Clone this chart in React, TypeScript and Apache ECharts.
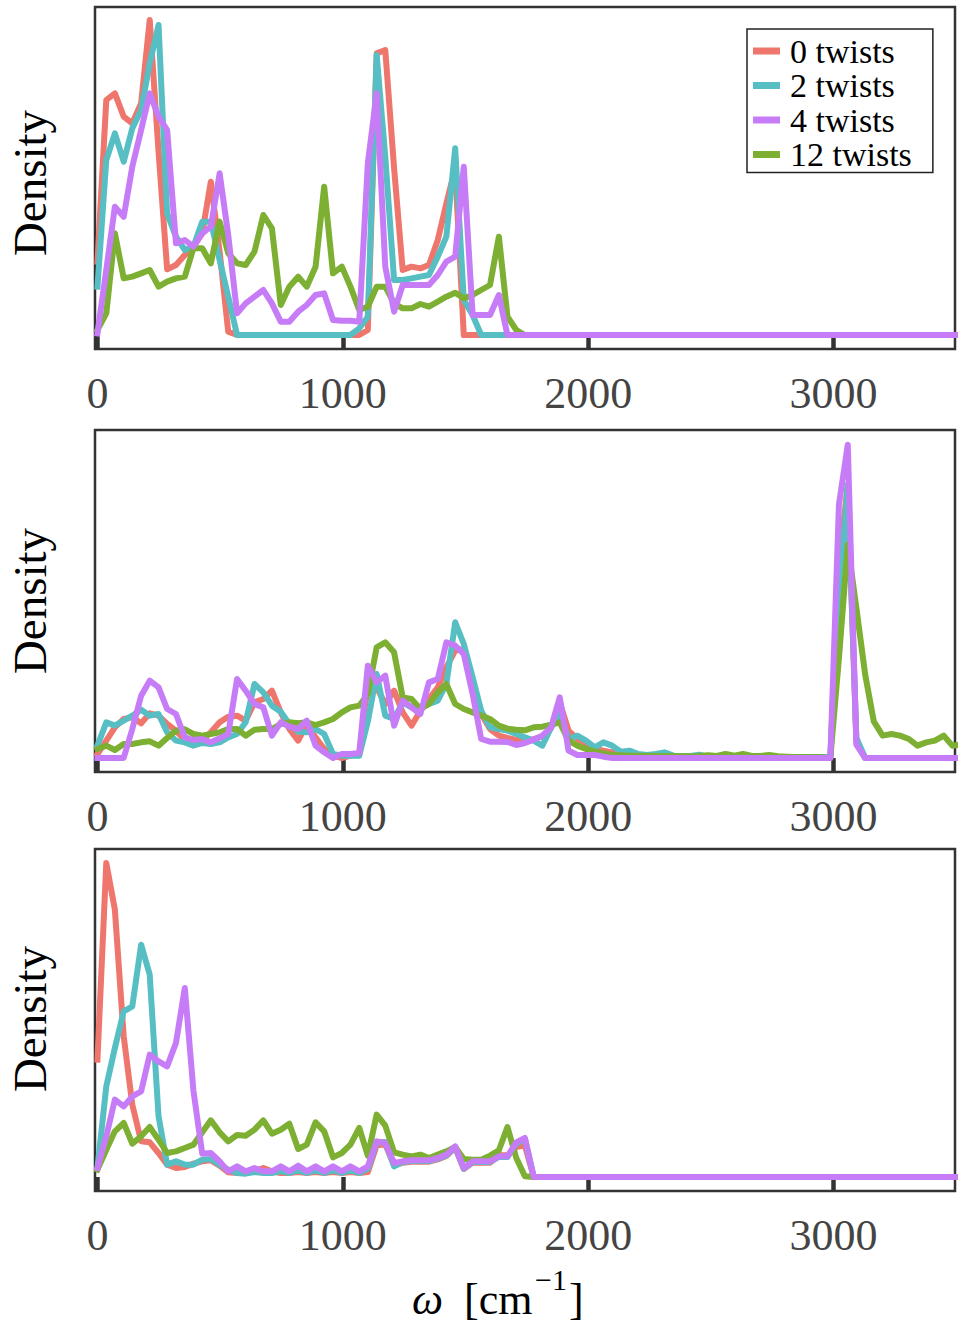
import React, { useEffect, useRef } from "react";
import * as echarts from "echarts";

// Frequency grid (cm^-1), shared by all series
const FREQ = [
  0, 36, 71, 107, 142, 178, 213, 249, 284, 320,
  356, 391, 427, 462, 498, 533, 569, 604, 640, 676,
  711, 747, 782, 818, 853, 889, 924, 960, 996, 1031,
  1067, 1102, 1138, 1173, 1209, 1244, 1280, 1316, 1351, 1387,
  1422, 1458, 1493, 1529, 1564, 1600, 1636, 1671, 1707, 1742,
  1778, 1813, 1849, 1884, 1920, 1956, 1991, 2027, 2062, 2098,
  2133, 2169, 2204, 2240, 2276, 2311, 2347, 2382, 2418, 2453,
  2489, 2524, 2560, 2596, 2631, 2667, 2702, 2738, 2773, 2809,
  2844, 2880, 2916, 2951, 2987, 3022, 3058, 3093, 3129, 3164,
  3200, 3236, 3271, 3307, 3342, 3378, 3413, 3449, 3484, 3520,
];

const SERIES_NAMES = ["0 twists", "2 twists", "4 twists", "12 twists"];
const COLORS = ["#EE766C", "#57BFC4", "#C77CF7", "#7CAF32"];
const X_TICKS = [0, 1000, 2000, 3000];

// ---- Panel 1 ----
const P1_T0 = [
  22, 70.5, 72.5, 65.5, 63.5, 69.5, 94.5, 55, 19.7, 21,
  24, 26.5, 30.5, 46, 25, 1, 0, 0, 0, 0,
  0, 0, 0, 0, 0, 0, 0, 0, 0, 0,
  0, 1.5, 84.5, 85.5, 50, 19.5, 20.5, 20, 21, 28.5,
  39.5, 50, 0, 0, 0, 0, 0, 0, 0, 0,
  0, 0, 0, 0, 0, 0, 0, 0, 0, 0,
  0, 0, 0, 0, 0, 0, 0, 0, 0, 0,
  0, 0, 0, 0, 0, 0, 0, 0, 0, 0,
  0, 0, 0, 0, 0, 0, 0, 0, 0, 0,
  0, 0, 0, 0, 0, 0, 0, 0, 0, 0,
];
const P1_T2 = [
  14.5, 52.5, 60.5, 52, 62, 67.5, 81.5, 93, 36.5, 29.5,
  25.5, 26.5, 34, 34, 22.5, 11.5, 0, 0, 0, 0,
  0, 0, 0, 0, 0, 0, 0, 0, 0, 0,
  2, 5.5, 84, 53.5, 16.5, 16.5, 17, 17.5, 18, 23.5,
  29.5, 56, 10.5, 6, 0, 0, 0, 0, 0, 0,
  0, 0, 0, 0, 0, 0, 0, 0, 0, 0,
  0, 0, 0, 0, 0, 0, 0, 0, 0, 0,
  0, 0, 0, 0, 0, 0, 0, 0, 0, 0,
  0, 0, 0, 0, 0, 0, 0, 0, 0, 0,
  0, 0, 0, 0, 0, 0, 0, 0, 0, 0,
];
const P1_T4 = [
  0.5, 19.5, 38.5, 35.5, 50.5, 61.5, 72.5, 65.5, 61.5, 27.5,
  28.5, 26.5, 30.5, 32.5, 48.5, 30, 6.5, 9.5, 11.5, 13.5,
  9.5, 4, 4, 7, 9, 12, 12.5, 4.5, 4.3, 4.3,
  4, 51.5, 72.5, 20.5, 7, 15, 15, 15, 15, 18,
  22, 23.5, 50.5, 6, 6, 6, 12, 0, 0, 0,
  0, 0, 0, 0, 0, 0, 0, 0, 0, 0,
  0, 0, 0, 0, 0, 0, 0, 0, 0, 0,
  0, 0, 0, 0, 0, 0, 0, 0, 0, 0,
  0, 0, 0, 0, 0, 0, 0, 0, 0, 0,
  0, 0, 0, 0, 0, 0, 0, 0, 0, 0,
];
const P1_T12 = [
  1.5, 6.5, 30.5, 17, 17.5, 18.5, 19.5, 14.5, 16, 17,
  17.5, 26, 26, 21.5, 34, 24.5, 21.5, 21, 25, 36,
  32, 9, 14.5, 17.5, 14.5, 20.5, 44.5, 18.5, 20.5, 14.5,
  7.5, 8.5, 14.5, 14.5, 9.5, 8, 8, 9.3, 8.5, 10,
  11.5, 12.7, 11, 12, 13.5, 15, 29.5, 5.5, 1.5, 0,
  0, 0, 0, 0, 0, 0, 0, 0, 0, 0,
  0, 0, 0, 0, 0, 0, 0, 0, 0, 0,
  0, 0, 0, 0, 0, 0, 0, 0, 0, 0,
  0, 0, 0, 0, 0, 0, 0, 0, 0, 0,
  0, 0, 0, 0, 0, 0, 0, 0, 0, 0,
];

// ---- Panel 2 ----
const P2_T0 = [
  1.2, 5.2, 9.2, 11.7, 12.2, 10.4, 13.4, 12.7, 10.2, 8.2,
  5.4, 4.7, 5.2, 7.7, 10.7, 12.4, 12.7, 11.2, 16.7, 17.7,
  20.2, 13.7, 8.7, 5.2, 10.2, 6.2, 2.7, 0.7, 0, 0.7,
  1.2, 22.2, 21.2, 16.2, 20.2, 13.7, 9.7, 14.2, 17.7, 21.2,
  27.2, 32.2, 32.7, 23.2, 13.2, 8.7, 6.7, 6, 5.4, 4.7,
  5.7, 6.5, 9, 16.7, 8.2, 5.7, 4.2, 2.7, 2.2, 1.7,
  1.2, 0.9, 0.8, 0.8, 0.6, 0.6, 0.5, 0.4, 0.4, 0.3,
  0.3, 0.3, 0.4, 0.3, 0.3, 0.6, 0.4, 0.5, 0.3, 0.3,
  0.2, 0.2, 0.2, 0.2, 0.2, 58, 82, 5, 0, 0,
  0, 0, 0, 0, 0, 0, 0, 0, 0, 0,
];
const P2_T2 = [
  3.7, 10.7, 9.7, 11.2, 12.7, 14.5, 12.7, 13.2, 7.7, 5.2,
  4.7, 3.7, 4.5, 4.2, 4.7, 6.2, 7.2, 10.7, 22.2, 19.7,
  15.7, 13.9, 10.2, 7.9, 7.7, 8.7, 7.2, 1.2, 0.7, 0.7,
  0.7, 11, 25.2, 12.7, 11.7, 16.7, 15.2, 15.2, 16.2, 17.2,
  22.2, 40.7, 34.2, 24.2, 14.2, 9.2, 8.7, 8.2, 7.2, 6.2,
  5.2, 3.7, 9.2, 13.2, 5.7, 6.7, 5.2, 3.2, 4.7, 3.7,
  1.9, 2.2, 1.2, 0.9, 1.2, 1.7, 0.7, 0.6, 0.6, 1,
  0.3, 0.3, 0.3, 0.3, 0.3, 0.3, 0.3, 0.3, 0.3, 0.3,
  0.3, 0.3, 0.3, 0.3, 0.3, 46, 82, 6, 0, 0,
  0, 0, 0, 0, 0, 0, 0, 0, 0, 0,
];
const P2_T4 = [
  0, 0, 0, 0, 8.7, 18.7, 23.2, 21.2, 14.7, 13.2,
  6.2, 5.4, 5.7, 4.7, 5.9, 7.2, 23.7, 20.2, 16.2, 15.2,
  6.7, 10.7, 9.4, 8.7, 11.2, 3.7, 1.7, 0, 1.2, 1.2,
  1.5, 27.7, 22.7, 24.7, 9.7, 17.2, 15.2, 13.2, 22.7, 23.7,
  34.7, 33.7, 31.2, 19.2, 5.7, 4.9, 4.9, 4.8, 3.9, 4.5,
  5.5, 6.7, 9.2, 18.2, 2.2, 0.9, 0.9, 0.9, 0.4, 0,
  0, 0, 0, 0, 0, 0, 0, 0, 0, 0,
  0, 0, 0, 0, 0, 0, 0, 0, 0, 0,
  0, 0, 0, 0, 0, 76, 94, 4, 0, 0,
  0, 0, 0, 0, 0, 0, 0, 0, 0, 0,
];
const P2_T12 = [
  2.7, 3.7, 2.4, 4.2, 4.2, 4.7, 5, 3.7, 6, 8.2,
  8.6, 7.2, 6.7, 7.2, 7.7, 8.7, 8.7, 6.7, 8.5, 8.7,
  8.7, 10.2, 10.7, 10.4, 10.7, 9.9, 10.7, 11.7, 13.7, 15.2,
  15.7, 19.2, 33.2, 34.7, 31.7, 18.2, 17.7, 14.7, 16.2, 19.7,
  22.2, 16.2, 14.7, 13.7, 12.7, 11.7, 9.7, 8.8, 8.5, 8.3,
  9.2, 9.4, 10, 10.7, 5.2, 3.7, 2.7, 2, 1.4, 0.9,
  0.8, 0.7, 0.7, 0.6, 0.6, 0.5, 0.6, 0.5, 0.5, 0.6,
  0.8, 0.6, 1.2, 0.7, 1.2, 0.6, 0.6, 0.9, 0.5, 0.4,
  0.3, 0.3, 0.2, 0.2, 0, 30, 64, 45, 25, 11,
  6.7, 7.2, 6.7, 5.7, 3.7, 4.7, 5.2, 6.7, 3.7, 4,
];

// ---- Panel 3 ----
const P3_T0 = [
  35.2, 94.2, 80.2, 42.2, 21.7, 10.7, 10.4, 7.2, 3.7, 2.7,
  3, 4, 4.7, 5, 3.4, 1.4, 1.2, 1.2, 1.7, 2.7,
  1.7, 1.2, 1.2, 1.5, 1.2, 1.5, 1.2, 1.5, 1.2, 1.5,
  1.2, 1.5, 9.5, 9.8, 3.5, 4.3, 4.6, 4.6, 4.6, 5.3,
  6.3, 8.8, 2.4, 4.3, 4.3, 4.3, 6.5, 6.5, 9, 9.5,
  0, 0, 0, 0, 0, 0, 0, 0, 0, 0,
  0, 0, 0, 0, 0, 0, 0, 0, 0, 0,
  0, 0, 0, 0, 0, 0, 0, 0, 0, 0,
  0, 0, 0, 0, 0, 0, 0, 0, 0, 0,
  0, 0, 0, 0, 0, 0, 0, 0, 0, 0,
];
const P3_T2 = [
  2.7, 27.2, 38.7, 49.7, 51.2, 69.7, 60.7, 18.2, 3.7, 4.7,
  3.7, 3.7, 5.2, 5.4, 3.7, 2.2, 1.2, 1, 1.5, 1.2,
  1.2, 1.8, 1.2, 2, 1.2, 2, 1.2, 2, 1.2, 2,
  1.2, 2.5, 10.4, 10.5, 3.2, 4.5, 4.8, 4.8, 4.8, 5.5,
  6.5, 9, 2.5, 4.5, 4.5, 4.5, 6, 6, 10, 11.5,
  0, 0, 0, 0, 0, 0, 0, 0, 0, 0,
  0, 0, 0, 0, 0, 0, 0, 0, 0, 0,
  0, 0, 0, 0, 0, 0, 0, 0, 0, 0,
  0, 0, 0, 0, 0, 0, 0, 0, 0, 0,
  0, 0, 0, 0, 0, 0, 0, 0, 0, 0,
];
const P3_T4 = [
  2.7, 12.2, 23.2, 21.2, 24.2, 25.7, 36.7, 34.7, 33.2, 40.2,
  56.7, 26, 7, 7.2, 4.7, 1.7, 3.2, 1.7, 2.7, 1.7,
  1.7, 3.2, 1.7, 3.4, 1.7, 3.2, 1.7, 3.2, 1.7, 3.2,
  1.7, 3.2, 10.7, 10.2, 4.2, 4.7, 5, 5, 5, 5.7,
  6.7, 9.2, 2.7, 4.7, 4.7, 4.7, 6.2, 6.2, 10.4, 11.7,
  0, 0, 0, 0, 0, 0, 0, 0, 0, 0,
  0, 0, 0, 0, 0, 0, 0, 0, 0, 0,
  0, 0, 0, 0, 0, 0, 0, 0, 0, 0,
  0, 0, 0, 0, 0, 0, 0, 0, 0, 0,
  0, 0, 0, 0, 0, 0, 0, 0, 0, 0,
];
const P3_T12 = [
  2.2, 8.2, 13.7, 16.2, 10, 12.2, 15, 11.2, 7.2, 7.7,
  8.7, 9.7, 13.4, 17, 13.4, 10.7, 12.6, 12.4, 14.2, 17,
  13, 14.2, 16, 8.4, 9.7, 16.4, 13.7, 5.9, 7.2, 9.7,
  14.7, 6.4, 18.7, 15.4, 7.4, 6.7, 6.2, 6.7, 5.7, 6.7,
  7.7, 9, 5.4, 5.2, 5.2, 6.4, 8, 15, 5.7, 0.2,
  0, 0, 0, 0, 0, 0, 0, 0, 0, 0,
  0, 0, 0, 0, 0, 0, 0, 0, 0, 0,
  0, 0, 0, 0, 0, 0, 0, 0, 0, 0,
  0, 0, 0, 0, 0, 0, 0, 0, 0, 0,
  0, 0, 0, 0, 0, 0, 0, 0, 0, 0,
];

const PANELS = [
  [P1_T0, P1_T2, P1_T4, P1_T12],
  [P2_T0, P2_T2, P2_T4, P2_T12],
  [P3_T0, P3_T2, P3_T4, P3_T12],
];

const SERIF = "'Liberation Serif', 'Times New Roman', serif";

export default function App() {
  const ref = useRef<HTMLDivElement>(null);

  useEffect(() => {
    const chart = echarts.init(ref.current as HTMLDivElement, null, { renderer: "svg" });

    const gridTops = [7, 430, 849];
    const grids = gridTops.map((top) => ({
      left: 95,
      top,
      width: 860,
      height: 342,
      show: true,
      borderColor: "#333",
      borderWidth: 2.5,
      backgroundColor: "transparent",
      containLabel: false,
    }));

    const xAxes = gridTops.map((_, k) => ({
      type: "value",
      gridIndex: k,
      min: -10,
      max: 3495,
      axisLine: { show: false },
      splitLine: { show: false },
      axisTick: {
        show: true,
        inside: false,
        length: 14,
        customValues: X_TICKS,
        lineStyle: { color: "#333", width: 4.5 },
      },
      axisLabel: {
        show: true,
        customValues: X_TICKS,
        formatter: (v: number) => String(Math.round(v)),
        margin: 22,
        fontFamily: SERIF,
        fontSize: 44,
        color: "#444",
      },
    }));

    const yAxes = gridTops.map((_, k) => ({
      type: "value",
      gridIndex: k,
      min: -4.2,
      max: 98.4,
      axisLine: { show: false },
      axisTick: { show: false },
      axisLabel: { show: false },
      splitLine: { show: false },
    }));

    const drawOrder = [0, 1, 3, 2];
    const series: any[] = [];
    PANELS.forEach((arrs, k) => {
      drawOrder.forEach((s) => {
        series.push({
          type: "line",
          name: SERIES_NAMES[s],
          xAxisIndex: k,
          yAxisIndex: k,
          data: FREQ.map((x, i) => [x, arrs[s][i]]),
          showSymbol: false,
          symbol: "none",
          smooth: false,
          clip: true,
          silent: true,
          lineStyle: { color: COLORS[s], width: 6, cap: "square", join: "round" },
          itemStyle: { color: COLORS[s] },
        });
      });
    });

    const densityY = [183, 601, 1019];
    const graphic: any[] = densityY.map((y) => ({
      type: "text",
      x: 30,
      y,
      rotation: Math.PI / 2,
      style: {
        text: "Density",
        fontFamily: SERIF,
        fontSize: 47,
        fill: "#000",
        textAlign: "center",
        align: "center",
        textVerticalAlign: "middle",
        verticalAlign: "middle",
      },
    }));
    const titleStyle = (text: string, size: number, italic = false) => ({
      text,
      fontFamily: SERIF,
      fontSize: size,
      fontStyle: italic ? "italic" : "normal",
      fill: "#000",
      textAlign: "left",
      align: "left",
      textVerticalAlign: "middle",
      verticalAlign: "middle",
    });
    graphic.push(
      { type: "text", x: 412, y: 1299, style: titleStyle("ω", 44, true) },
      { type: "text", x: 464, y: 1299, style: titleStyle("[cm", 44) },
      { type: "text", x: 535, y: 1279, style: titleStyle("−1", 30) },
      { type: "text", x: 569, y: 1299, style: titleStyle("]", 44) }
    );

    chart.setOption({
      animation: false,
      backgroundColor: "#fff",
      grid: grids,
      xAxis: xAxes,
      yAxis: yAxes,
      legend: {
        data: SERIES_NAMES,
        orient: "vertical",
        left: 747,
        top: 29,
        padding: [5, 21, 1, 6],
        itemGap: 0.5,
        itemWidth: 27,
        itemHeight: 7,
        icon: "rect",
        borderColor: "#222",
        borderWidth: 1.5,
        borderRadius: 0,
        backgroundColor: "#fff",
        selectedMode: false,
        textStyle: {
          fontFamily: SERIF,
          fontSize: 34,
          color: "#000",
          padding: [0, 0, 0, 5],
        },
      },
      series,
      graphic,
    });

    return () => {
      chart.dispose();
    };
  }, []);

  return (
    <div
      ref={ref}
      style={{ position: "absolute", left: 0, top: 0, width: 962, height: 1330 }}
    />
  );
}
